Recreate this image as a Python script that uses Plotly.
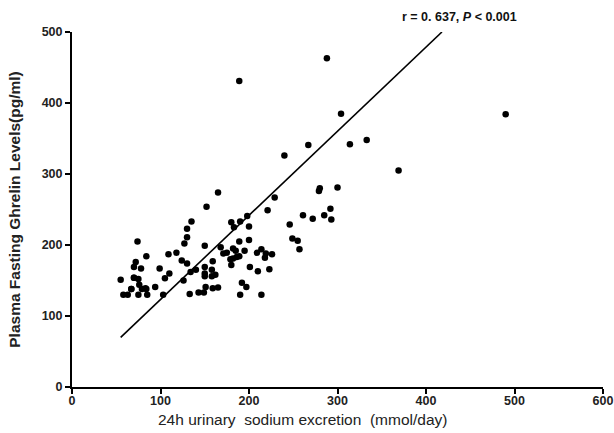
import plotly.graph_objects as go

sodium = [55, 58, 63, 67, 70, 72, 70, 78, 74, 70, 75, 76, 79, 67, 83, 75, 85, 84,
          84, 94, 99, 103, 105, 109, 110, 118, 124, 126, 127, 130, 130, 130, 135,
          134, 140, 133, 143, 149, 151, 159, 165, 150, 152, 150, 150, 150, 158, 158,
          162, 159, 165, 168, 171, 175, 179, 182, 186, 189, 180, 182, 185, 189, 200,
          195, 180, 190, 183, 200, 198, 201, 210, 223, 214, 219, 226, 218, 209, 192,
          197, 190, 214, 229, 221, 246, 249, 255, 257, 261, 272, 285, 292, 293, 279,
          280, 300, 189, 288, 304, 267, 240, 314, 333, 369, 490]
ghrelin = [151, 130, 130, 138, 154, 176, 169, 167, 205, 154, 152, 144, 138, 138, 139, 130, 130, 138,
           184, 141, 167, 130, 153, 187, 160, 189, 178, 150, 202, 211, 223, 174, 233,
           162, 165, 131, 133, 133, 141, 139, 140, 199, 254, 169, 160, 156, 165, 156,
           158, 177, 274, 197, 188, 189, 180, 181, 183, 184, 172, 195, 192, 205, 207,
           192, 232, 233, 225, 226, 241, 169, 163, 166, 194, 188, 187, 182, 189, 147,
           141, 130, 130, 267, 249, 229, 209, 206, 194, 242, 237, 242, 251, 236, 276,
           280, 281, 431, 463, 385, 341, 326, 342, 348, 305, 384]

fit_x = [55, 418]
fit_y = [70, 500]

x_ticks = [0, 100, 200, 300, 400, 500, 600]
y_ticks = [0, 100, 200, 300, 400, 500]

FONT = "Liberation Sans, Arial"

fig = go.Figure()
fig.add_trace(go.Scatter(x=fit_x, y=fit_y, mode="lines",
                         line=dict(color="black", width=1.6), showlegend=False,
                         hoverinfo="skip"))
fig.add_trace(go.Scatter(x=sodium, y=ghrelin, mode="markers",
                         marker=dict(color="black", size=6.5), showlegend=False))

# correlation label above the plot area (paper coords so it is not hidden as off-range)
fig.add_annotation(x=0.729, y=1.042, xref="paper", yref="paper",
                   xanchor="center", yanchor="middle",
                   text="<b>r = 0. 637, <i>P</i> < 0.001</b>", showarrow=False,
                   font=dict(family=FONT, size=12.5, color="#111"))

# x-axis title, placed as in the reference (left of the plot centre, close under the ticks)
fig.add_annotation(x=0.434, y=-0.092, xref="paper", yref="paper",
                   xanchor="center", yanchor="middle", showarrow=False,
                   text="24h urinary  sodium excretion  (mmol/day)",
                   font=dict(family=FONT, size=15.5, color="#222"))

axis_common = dict(showgrid=False, zeroline=False, showline=True, linecolor="black",
                   linewidth=2, ticks="outside", ticklen=5, tickwidth=1.5,
                   tickcolor="black", mirror=False, automargin=False)

fig.update_xaxes(range=[0, 600], tickvals=x_ticks, ticktext=[f"<b>{v}</b>" for v in x_ticks],
                 tickfont=dict(family=FONT, size=12.5, color="#222"),
                 ticklabelstandoff=-4,
                 **axis_common)
fig.update_yaxes(range=[0, 500], tickvals=y_ticks, ticktext=[f"<b>{v}</b>" for v in y_ticks],
                 tickfont=dict(family=FONT, size=12.5, color="#222"),
                 title=dict(text="<b>Plasma Fasting Ghrelin Levels(pg/ml)</b>",
                            font=dict(family=FONT, size=15.5, color="#222"),
                            standoff=17),
                 **axis_common)

fig.update_layout(width=614, height=433, plot_bgcolor="white", paper_bgcolor="white",
                  margin=dict(l=72, r=11, t=32, b=46), showlegend=False)

# remove the default 8px page margin so the figure fills the window exactly
fig.write_html("out.html", config={"displayModeBar": False},
               post_script="document.body.style.margin='0px';")
